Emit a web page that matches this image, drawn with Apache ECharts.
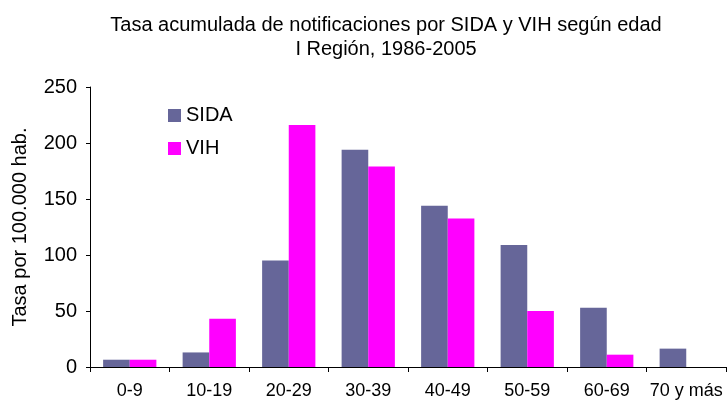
<!DOCTYPE html>
<html>
<head>
<meta charset="utf-8">
<script src="https://cdn.jsdelivr.net/npm/echarts@6/dist/echarts.min.js"></script>
<style>
html,body{margin:0;padding:0;background:#fff;}
#chart{width:727px;height:400px;}
</style>
</head>
<body>
<div id="chart"></div>
<script>
const titleText = 'Tasa acumulada de notificaciones por SIDA y VIH según edad\nI Región, 1986-2005';
const yAxisName = 'Tasa por 100.000 hab.';
const categories = ['0-9', '10-19', '20-29', '30-39', '40-49', '50-59', '60-69', '70 y más'];
const seriesNames = ['SIDA', 'VIH'];
const sidaValues = [6.5, 13, 95, 194, 144, 109, 53, 16.4];
const vihValues = [6.5, 43, 216, 179, 132.5, 50, 11, 0];
const yTicks = { min: 0, max: 250, interval: 50 };

const FONT = '"Liberation Sans", Arial, sans-serif';
const chart = echarts.init(document.getElementById('chart'), null, { renderer: 'canvas' });
chart.setOption({
  backgroundColor: '#ffffff',
  animation: false,
  textStyle: { fontFamily: FONT, color: '#000' },
  title: {
    text: titleText,
    left: 381,
    textAlign: 'center',
    top: 9,
    textStyle: { fontFamily: FONT, fontSize: 20, fontWeight: 'normal', color: '#000', lineHeight: 23.5 }
  },
  legend: {
    orient: 'vertical',
    left: 163,
    top: 100.5,
    itemWidth: 13,
    itemHeight: 13,
    itemGap: 13,
    itemTextGap: 5,
    icon: 'rect',
    data: seriesNames,
    textStyle: { fontFamily: FONT, fontSize: 20, color: '#000', lineHeight: 20 }
  },
  grid: { left: 90, right: 1, top: 87, bottom: 33, containLabel: false },
  xAxis: {
    type: 'category',
    data: categories,
    axisLine: { lineStyle: { color: '#000', width: 1 } },
    axisTick: { show: true, length: 5, lineStyle: { color: '#000' } },
    axisLabel: { fontFamily: FONT, fontSize: 18, color: '#000', margin: 15, interval: 0 },
    splitLine: { show: false }
  },
  yAxis: {
    type: 'value',
    min: yTicks.min,
    max: yTicks.max,
    interval: yTicks.interval,
    name: yAxisName,
    nameLocation: 'middle',
    nameRotate: 90,
    nameGap: 60,
    nameTextStyle: { fontFamily: FONT, fontSize: 20, color: '#000' },
    axisLine: { show: true, lineStyle: { color: '#000', width: 1 } },
    axisTick: { show: true, length: 4, lineStyle: { color: '#000' } },
    axisLabel: { fontFamily: FONT, fontSize: 20, color: '#000', margin: 13 },
    splitLine: { show: false }
  },
  series: [
    {
      name: seriesNames[0],
      type: 'bar',
      data: sidaValues,
      barGap: '0%',
      barCategoryGap: '33%',
      itemStyle: { color: '#666699' }
    },
    {
      name: seriesNames[1],
      type: 'bar',
      data: vihValues,
      barGap: '0%',
      barCategoryGap: '33%',
      itemStyle: { color: '#ff00ff' }
    }
  ]
});
</script>
</body>
</html>
